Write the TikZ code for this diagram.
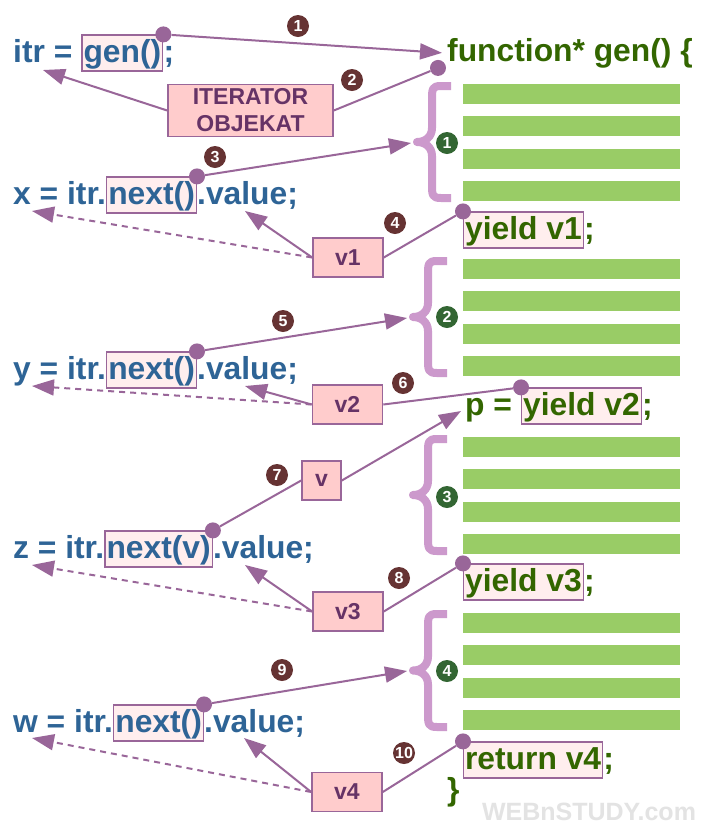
\documentclass[tikz,border=0pt]{standalone}
\usepackage{fontspec}
\setmainfont{Liberation Sans}
\usetikzlibrary{positioning,arrows.meta}

\definecolor{codeblue}{RGB}{46,100,150}
\definecolor{codegreen}{RGB}{51,102,0}
\definecolor{barcol}{RGB}{153,204,102}
\definecolor{bracecol}{RGB}{204,153,204}
\definecolor{linkcol}{RGB}{153,102,153}
\definecolor{stepred}{RGB}{102,51,51}
\definecolor{blockgreen}{RGB}{51,102,51}
\definecolor{boxfill}{RGB}{255,204,204}
\definecolor{boxtext}{RGB}{102,51,102}
\definecolor{hlfill}{RGB}{255,238,238}

% brace in front of a code block: #1 x shift, #2 top, #3 bottom
\newcommand{\blockbrace}[3]{%
  \draw[bracecol, line width=8pt, line join=round]
    ({447+#1},#2) -- ({437+#1},#2)
    .. controls ({428+#1},#2) and ({428+#1},{#2+3}) .. ({428+#1},{#2+14})
    -- ({428+#1},{(#2+#3)/2-14})
    .. controls ({428+#1},{(#2+#3)/2-5}) and ({421+#1},{(#2+#3)/2}) .. ({413+#1},{(#2+#3)/2})
    .. controls ({421+#1},{(#2+#3)/2}) and ({428+#1},{(#2+#3)/2+5}) .. ({428+#1},{(#2+#3)/2+14})
    -- ({428+#1},{#3-14})
    .. controls ({428+#1},{#3-3}) and ({428+#1},#3) .. ({437+#1},#3) -- ({447+#1},#3);}

\begin{document}
\begin{tikzpicture}[x=1pt, y=-1pt,
  codetext/.style={font=\fontsize{31.8}{31.8}\bfseries, text=codeblue, inner sep=0pt, anchor=base west},
  gcode/.style={codetext, text=codegreen},
  hilite/.style={codetext, draw=linkcol, line width=1.2pt, fill=hlfill, inner xsep=1.5pt, inner ysep=0pt, text height=27pt, text depth=9pt},
  valbox/.style={draw=linkcol, line width=1.6pt, fill=boxfill, text=boxtext, font=\fontsize{23}{27}\bfseries, inner sep=0pt, minimum height=39pt},
  stepnum/.style={circle, fill=stepred, text=white, font=\fontsize{16}{16}\bfseries, inner sep=0pt, minimum size=22pt},
  blocknum/.style={stepnum, fill=blockgreen},
  dot/.style={circle, fill=linkcol, inner sep=0pt, minimum size=16pt},
  link/.style={draw=linkcol, line width=2pt},
  tiplink/.style={link, -{Triangle[length=22pt,width=16pt]}},
  dashlink/.style={tiplink, dash pattern=on 6pt off 5pt}]

\path[use as bounding box, fill=white] (0,0) rectangle (709,831);

\foreach \ytop in {84,259,437,613}
  \foreach \k in {0,...,3}
    \fill[barcol] (463,{\ytop+32.3*\k}) rectangle (680,{\ytop+32.3*\k+20});

\blockbrace{4}{86}{198}
\blockbrace{0}{261}{373}
\blockbrace{0}{439}{551}
\blockbrace{0}{614}{727}

% calling code
\node[codetext] (l1a) at (13,62) {itr =\ \null};
\node[hilite] (gen) at (l1a.base east) {gen()};
\node[codetext] (l1c) at (gen.base east) {;};

\node[codetext] (l2a) at (13,204) {x = itr.};
\node[hilite] (nx1) at (l2a.base east) {next()};
\node[codetext] (l2c) at (nx1.base east) {.value;};

\node[codetext] (l3a) at (13,379) {y = itr.};
\node[hilite] (nx2) at (l3a.base east) {next()};
\node[codetext] (l3c) at (nx2.base east) {.value;};

\node[codetext] (l4a) at (13,558) {z = itr.};
\node[hilite] (nx3) at (l4a.base east) {next(v)};
\node[codetext] (l4c) at (nx3.base east) {.value;};

\node[codetext] (l5a) at (13,732) {w = itr.};
\node[hilite] (nx4) at (l5a.base east) {next()};
\node[codetext] (l5c) at (nx4.base east) {.value;};

% generator
\node[gcode] (fn) at (447,61) {function* gen() \{};
\node[hilite, text=codegreen] (y1) at (463,239) {yield v1};
\node[gcode] (y1c) at (y1.base east) {;};
\node[gcode] (pa) at (465,415) {p =\ \null};
\node[hilite, text=codegreen] (y2) at (pa.base east) {yield v2};
\node[gcode] (y2c) at (y2.base east) {;};
\node[hilite, text=codegreen] (y3) at (463,591) {yield v3};
\node[gcode] (y3c) at (y3.base east) {;};
\node[hilite, text=codegreen] (rt) at (463,769) {return v4};
\node[gcode] (rtc) at (rt.base east) {;};
\node[gcode] (fnend) at (447,800) {\}};

% values
\node[valbox, minimum width=165pt, minimum height=52pt, align=center] (iter) at (250.5,110.5) {ITERATOR\\OBJEKAT};
\node[valbox, minimum width=70pt] (v1) at (348,257.5) {v1};
\node[valbox, minimum width=70pt] (v2) at (347.5,404.5) {v2};
\node[valbox, minimum width=39pt] (vv) at (321.5,480.5) {v};
\node[valbox, minimum width=70pt] (v3) at (348,611.5) {v3};
\node[valbox, minimum width=70pt] (v4) at (347,792) {v4};

\node[blocknum] (g1) at (447,143) {1};
\node[blocknum] (g2) at (447,317) {2};
\node[blocknum] (g3) at (447,497) {3};
\node[blocknum] (g4) at (447,671) {4};

\node[stepnum] (n1) at (298,26) {1};
\node[stepnum] (n2) at (352,80) {2};
\node[stepnum] (n3) at (215,157) {3};
\node[stepnum] (n4) at (395,223) {4};
\node[stepnum] (n5) at (283,321) {5};
\node[stepnum] (n6) at (403,383) {6};
\node[stepnum] (n7) at (277,475) {7};
\node[stepnum] (n8) at (399,578) {8};
\node[stepnum] (n9) at (282,670) {9};
\node[stepnum] (n10) at (404,753) {10};

\node[dot] (d1) at (gen.north east) {};
\node[dot] (d2) at ([xshift=-9pt]fn.south west) {};
\node[dot] (d3) at (nx1.north east) {};
\node[dot] (d4) at (y1.north west) {};
\node[dot] (d5) at (nx2.north east) {};
\node[dot] (d6) at (y2.north west) {};
\node[dot] (d7) at (nx3.north east) {};
\node[dot] (d8) at (y3.north west) {};
\node[dot] (d9) at (nx4.north east) {};
\node[dot] (d10) at (rt.north west) {};

\coordinate (itrvar) at (43,70);
\coordinate (b1) at (411,143);
\coordinate (b2) at (407,318);
\coordinate (b4) at (407,671);
\coordinate (pvar) at (461,411);
\coordinate (xv) at (245,211);
\coordinate (yv) at (245,386);
\coordinate (zv) at (245,565);
\coordinate (wv) at (244,738);
\coordinate (xvar) at (32,211);
\coordinate (yvar) at (32,386);
\coordinate (zvar) at (32,565);
\coordinate (wvar) at (32,738);

\draw[tiplink] (d1) -- ([xshift=-5pt]fn.west);
\draw[link] (d2) -- (iter.east);
\draw[tiplink] (iter.west) -- (itrvar);
\draw[tiplink] (d3) -- (b1);
\draw[link] (d4) -- (v1.east);
\draw[tiplink] (v1.west) -- (xv);
\draw[dashlink] (v1.west) -- (xvar);
\draw[tiplink] (d5) -- (b2);
\draw[link] (d6) -- (v2.east);
\draw[tiplink] (v2.west) -- (yv);
\draw[dashlink] (v2.west) -- (yvar);
\draw[link] (d7) -- (vv.west);
\draw[tiplink] (vv.east) -- (pvar);
\draw[link] (d8) -- (v3.east);
\draw[tiplink] (v3.west) -- (zv);
\draw[dashlink] (v3.west) -- (zvar);
\draw[tiplink] (d9) -- (b4);
\draw[link] (d10) -- (v4.east);
\draw[tiplink] (v4.west) -- (wv);
\draw[dashlink] (v4.west) -- (wvar);

\node[font=\fontsize{25}{25}\bfseries, text=gray!22] (wm) at (589,812) {WEBnSTUDY.com};

\end{tikzpicture}
\end{document}
